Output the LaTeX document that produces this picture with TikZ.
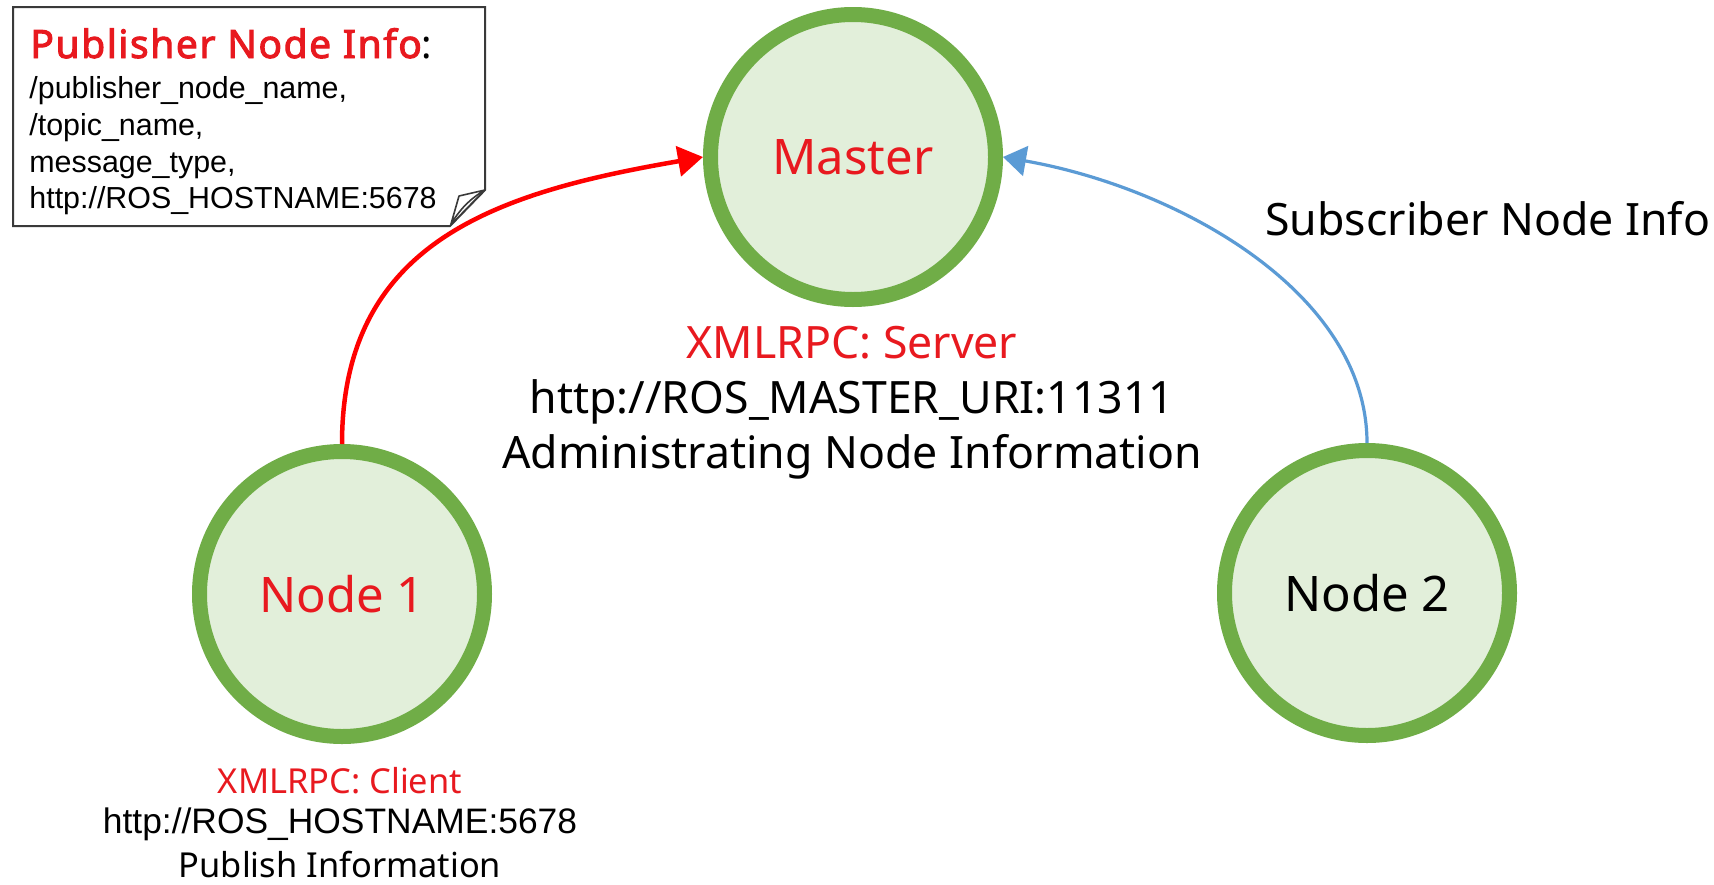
\documentclass[tikz,border=0pt]{standalone}
\usepackage{fontspec}
\setmainfont{Noto Sans}
\newfontfamily\arialfont{Liberation Sans}
\newfontfamily\headbold{Noto Sans}[FakeBold=2.5,LetterSpace=4]
\usetikzlibrary{arrows.meta}
\definecolor{ringgreen}{HTML}{70AD47}
\definecolor{fillgreen}{HTML}{E2EFDA}
\definecolor{labelred}{HTML}{E8191F}
\definecolor{linkred}{HTML}{FF0000}
\definecolor{linkblue}{HTML}{5B9BD5}
\definecolor{notegray}{HTML}{3A3A3A}
\begin{document}
\begin{tikzpicture}[x=0.5pt,y=0.5pt,
  rosnode/.style={circle, draw=ringgreen, fill=fillgreen, line width=7.5pt,
    minimum size=142.5pt, inner sep=0pt, font=\fontsize{24.5}{29}\selectfont},
  bigtext/.style={anchor=base, inner sep=0pt, font=\fontsize{22.3}{26}\selectfont},
  smalltext/.style={anchor=base, inner sep=0pt, font=\fontsize{17.2}{20}\selectfont},
  arialtext/.style={anchor=base, inner sep=0pt, font=\arialfont\fontsize{17.7}{21}\selectfont},
  notetext/.style={anchor=base west, inner sep=0pt, font=\arialfont\fontsize{15.2}{18}\selectfont},
  pubarrow/.style={draw=linkred, line width=2.25pt, -{Triangle[length=12.5pt,width=15pt]}},
  subarrow/.style={draw=linkblue, line width=1.6pt, -{Triangle[length=11.5pt,width=15pt]}},
]
\fill[white] (0,0) rectangle (1714,-884);
\useasboundingbox (0,0) rectangle (1714,-884);

% note with folded corner
\draw[notegray, line width=1pt] (13,-7) -- (485,-7) -- (485,-190) -- (450,-226) -- (13,-226) -- cycle;
\draw[notegray, line width=0.8pt, fill=white, line join=round]
  (485,-190) -- (459,-196) -- (451,-224) .. controls (462,-206) and (473,-197) .. (485,-190);
\node[notetext, font=\fontsize{19.5}{23}\selectfont] (notehead) at (30,-58)
  {{\headbold\color{labelred}Publisher Node Info}:};
\node[notetext] (note1) at (29,-98) {/publisher\_node\_name,};
\node[notetext] (note2) at (29,-135) {/topic\_name,};
\node[notetext] (note3) at (29,-172) {message\_type,};
\node[notetext] (note4) at (29,-208) {http://ROS\_HOSTNAME:5678};

% ROS graph nodes
\node[rosnode, text=labelred] (master) at (853,-157) {Master};
\node[rosnode, text=labelred] (pub) at (342,-594) {Node 1};
\node[rosnode] (sub) at (1367,-593) {Node 2};

% master labels
\node[bigtext, text=labelred] (srvrole) at (852,-358) {XMLRPC: Server};
\node[bigtext] (srvuri) at (852,-413) {http://ROS\_MASTER\_URI:11311};
\node[bigtext] (srvjob) at (852,-468) {Administrating Node Information};

% publisher labels
\node[smalltext, text=labelred] (clirole) at (340,-793) {XMLRPC: Client};
\node[arialtext] (cliuri) at (340,-833) {http://ROS\_HOSTNAME:5678};
\node[smalltext] (clijob) at (340,-877) {Publish Information};

% subscriber label
\node[bigtext, anchor=base west] (subinfo) at (1265,-235) {Subscriber Node Info};

% registrations
\draw[pubarrow] (pub.north) .. controls (342,-240) and (500,-192) .. (master.west);
\draw[subarrow] (sub.north) .. controls (1367,-293) and (1179,-188) .. (master.east);
\end{tikzpicture}
\end{document}
